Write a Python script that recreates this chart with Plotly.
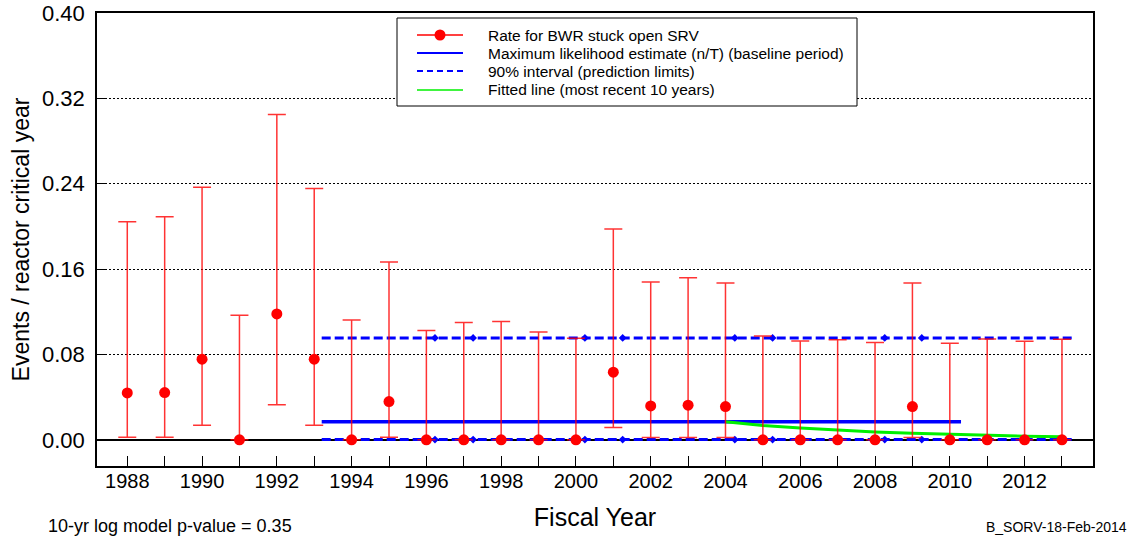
import plotly.graph_objects as go

# Fiscal years and annual rates (events / reactor critical year)
years = list(range(1988, 2014))
rate = [0.044, 0.0443, 0.0756, 0.0, 0.118, 0.0756, 0.0, 0.0359, 0.0, 0.0,
        0.0, 0.0, 0.0, 0.0634, 0.0318, 0.0325, 0.0312, 0.0, 0.0, 0.0,
        0.0, 0.0312, 0.0, 0.0, 0.0, 0.0]
upper = [0.2045, 0.209, 0.2367, 0.1168, 0.3048, 0.2355, 0.1124, 0.1667, 0.1024, 0.110,
         0.1109, 0.101, 0.0952, 0.1977, 0.148, 0.152, 0.147, 0.0974, 0.0927, 0.0937,
         0.0912, 0.147, 0.0905, 0.0946, 0.0924, 0.0943]
lower = [0.0025, 0.0025, 0.0137, 0.0, 0.0328, 0.0137, 0.0, 0.0025, 0.0, 0.0,
         0.0, 0.0, 0.0, 0.0115, 0.0022, 0.0022, 0.0022, 0.0, 0.0, 0.0,
         0.0, 0.0022, 0.0, 0.0, 0.0, 0.0]

# Baseline period estimate and 90% prediction limits
baseline_x = [1993.2, 2010.3]
mle = 0.0169
interval_x = [1993.2, 2013.3]
pred_upper = 0.0955
pred_lower = 0.0003
interval_marks = [1996.23, 1997.25, 2000.24, 2001.25, 2004.25, 2005.26, 2008.26, 2009.25]

# Fitted log-model line over the most recent 10 years
fit_years = list(range(2004, 2014))
fit_rate = [0.0169, 0.0135, 0.0110, 0.0090, 0.0074, 0.0061, 0.0050, 0.0041, 0.0034, 0.0028]

y_ticks = [0.0, 0.08, 0.16, 0.24, 0.32, 0.40]

RED = "#ff0000"
BLUE = "#0000ff"
GREEN = "#00f000"
FONT = "Liberation Sans, Arial, sans-serif"

W, H = 1135, 541
ML, MR, MT, MB = 97, 42, 13, 75
PW, PH = W - ML - MR, H - MT - MB


def px(x):
    return (x - ML) / PW


def py(y):
    return (H - MB - y) / PH


fig = go.Figure()

# Prediction limits (dashed)
for lvl in (pred_upper, pred_lower):
    fig.add_trace(go.Scatter(
        x=interval_x, y=[lvl, lvl], mode="lines",
        line=dict(color=BLUE, width=3, dash="9px,4px"),
        hoverinfo="skip", showlegend=False))
    fig.add_trace(go.Scatter(
        x=interval_marks, y=[lvl] * len(interval_marks), mode="markers",
        marker=dict(symbol="diamond", size=6, color=BLUE),
        hoverinfo="skip", showlegend=False))

# Maximum likelihood estimate over the baseline period
fig.add_trace(go.Scatter(
    x=baseline_x, y=[mle, mle], mode="lines",
    line=dict(color=BLUE, width=3.5), showlegend=False))

# Fitted trend line
fig.add_trace(go.Scatter(
    x=fit_years, y=fit_rate, mode="lines",
    line=dict(color=GREEN, width=3), showlegend=False))

# Annual rates with interval bars
fig.add_trace(go.Scatter(
    x=years, y=rate, mode="markers",
    marker=dict(color=RED, size=11),
    error_y=dict(type="data", symmetric=False,
                 array=[u - r for u, r in zip(upper, rate)],
                 arrayminus=[r - l for r, l in zip(rate, lower)],
                 color="rgba(255,0,0,0.8)", thickness=1.5, width=9),
    showlegend=False))

shapes = []
annotations = []

# Legend box
lx0, lx1, ly0, ly1 = 397, 857, 18, 106
shapes.append(dict(type="rect", xref="paper", yref="paper",
                   x0=px(lx0), x1=px(lx1), y0=py(ly1), y1=py(ly0),
                   line=dict(color="black", width=1), fillcolor="white", layer="above"))
legend_rows = [
    ("Rate for BWR stuck open SRV", dict(color=RED, width=1.5), True),
    ("Maximum likelihood estimate (n/T) (baseline period)", dict(color=BLUE, width=2), False),
    ("90% interval (prediction limits)", dict(color=BLUE, width=2, dash="6px,4px"), False),
    ("Fitted line (most recent 10 years)", dict(color=GREEN, width=1.5), False),
]
row_y = [35, 53, 71, 90]
for (label, ln, dot), yy in zip(legend_rows, row_y):
    shapes.append(dict(type="line", xref="paper", yref="paper",
                       x0=px(417), x1=px(463), y0=py(yy), y1=py(yy),
                       line=ln, layer="above"))
    if dot:
        shapes.append(dict(type="circle", xref="paper", yref="paper",
                           x0=px(434.5), x1=px(445.5), y0=py(yy + 5.5), y1=py(yy - 5.5),
                           fillcolor=RED, line=dict(color=RED, width=0), layer="above"))
    annotations.append(dict(text=label, xref="paper", yref="paper",
                            x=px(486), y=py(yy), xanchor="left", yanchor="middle",
                            showarrow=False, font=dict(family=FONT, size=15.5, color="black")))

# Notes below the axes
annotations.append(dict(text="10-yr log model p-value = 0.35", xref="paper", yref="paper",
                        x=px(46), y=py(526), xanchor="left", yanchor="middle",
                        showarrow=False, font=dict(family=FONT, size=18, color="black")))
annotations.append(dict(text="B_SORV-18-Feb-2014", xref="paper", yref="paper",
                        x=px(1129), y=py(527), xanchor="right", yanchor="middle",
                        showarrow=False, font=dict(family=FONT, size=14, color="black")))

fig.update_layout(
    width=W, height=H,
    margin=dict(l=ML, r=MR, t=MT, b=MB),
    paper_bgcolor="white", plot_bgcolor="white",
    font=dict(family=FONT, color="black"),
    shapes=shapes, annotations=annotations,
    showlegend=False,
)

fig.update_xaxes(
    range=[1987.19, 2013.83],
    tickvals=years,
    ticktext=[str(y) if y % 2 == 0 else "" for y in years],
    ticks="inside", ticklen=10, tickcolor="black", tickwidth=1,
    tickfont=dict(size=20, family=FONT), ticklabelstandoff=-4,
    showgrid=False, zeroline=False, automargin=False,
    showline=True, linecolor="black", linewidth=1.5, mirror=True,
    title=dict(text="Fiscal Year", font=dict(size=25, family=FONT), standoff=18),
)
fig.update_yaxes(
    range=[-0.0245, 0.40],
    tickvals=y_ticks, tickformat=".2f",
    ticks="inside", ticklen=8, tickcolor="black", tickwidth=1,
    tickfont=dict(size=22, family=FONT), ticklabelstandoff=6,
    showgrid=True, gridcolor="black", gridwidth=1, griddash="2px,2px",
    zeroline=True, zerolinecolor="black", zerolinewidth=1.5, automargin=False,
    showline=True, linecolor="black", linewidth=1.5, mirror=True,
    title=dict(text="Events / reactor critical year", font=dict(size=23, family=FONT), standoff=6),
)

fig.write_html("out.html")
